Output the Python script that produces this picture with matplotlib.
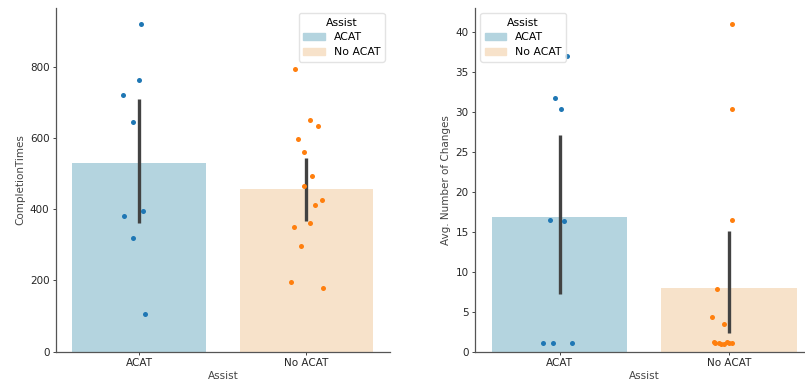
import matplotlib.pyplot as plt
from matplotlib.patches import Patch

categories = ["ACAT", "No ACAT"]

# completion times per participant
times_acat = [920, 763, 721, 646, 395, 380, 320, 105]
times_no_acat = [793, 650, 635, 596, 561, 493, 464, 425, 412, 362, 350, 298, 196, 180]
times_jitter_acat = [0.01, 0.0, -0.10, -0.04, 0.02, -0.094, -0.038, 0.032]
times_jitter_no_acat = [-0.07, 0.022, 0.072, -0.05, -0.012, 0.034, -0.016, 0.094,
                        0.052, 0.02, -0.074, -0.032, -0.09, 0.098]
times_ci_low = [362, 368]
times_ci_high = [710, 543]

# avg. number of changes per participant
changes_acat = [37.0, 31.7, 30.4, 16.5, 16.4, 1.1, 1.1, 1.05]
changes_no_acat = [41.0, 30.4, 16.5, 7.9, 4.3, 3.5, 1.2, 1.1, 1.05, 1.0, 1.15, 1.1, 1.05, 1.0]
changes_jitter_acat = [0.045, -0.03, 0.005, -0.06, 0.025, -0.1, -0.04, 0.07]
changes_jitter_no_acat = [0.015, 0.015, 0.015, -0.07, -0.1, -0.03, -0.09, -0.08,
                          -0.06, -0.03, -0.01, 0.0, 0.02, -0.05]
changes_ci_low = [7.2, 2.3]
changes_ci_high = [27.1, 15.1]

bar_colors = ["#b4d4df", "#f7e2ca"]
point_colors = ["#1f77b4", "#ff7f0e"]
text_color = "#262626"


def draw_panel(ax, groups, jitters, ci_low, ci_high, ylabel):
    means = [sum(g) / len(g) for g in groups]
    ax.bar(range(len(categories)), means, width=0.8, color=bar_colors, zorder=1)
    for i, (vals, jit) in enumerate(zip(groups, jitters)):
        ax.scatter([i + j for j in jit], vals, s=13, color=point_colors[i],
                   linewidth=0, zorder=3)
    ax.vlines(range(len(categories)), ci_low, ci_high, color="#424242",
              linewidth=2.4, zorder=2)
    ax.set_xlim(-0.5, 1.5)
    ax.set_ylim(bottom=0)
    ax.set_xticks(range(len(categories)))
    ax.set_xticklabels(categories)
    ax.set_xlabel("Assist", fontsize=7.5, color="#444444", labelpad=2)
    ax.set_ylabel(ylabel, fontsize=7.5, color="#444444", labelpad=3)
    ax.tick_params(labelsize=7.5, colors=text_color, length=2.5, width=0.6,
                   pad=2)
    for side in ("top", "right"):
        ax.spines[side].set_visible(False)
    for side in ("left", "bottom"):
        ax.spines[side].set_color("#555555")
        ax.spines[side].set_linewidth(0.9)


def add_legend(ax, loc):
    handles = [Patch(color=c, label=l) for c, l in zip(bar_colors, categories)]
    leg = ax.legend(handles=handles, title="Assist", loc=loc, fontsize=7.8,
                    title_fontsize=7.8, borderaxespad=0.5, handlelength=2.0,
                    labelspacing=0.45)
    leg.get_frame().set_edgecolor("#dddddd")


fig = plt.figure(figsize=(8.05, 3.87), dpi=100)
ax_left = fig.add_axes([0.0692, 0.0913, 0.4153, 0.8886])
ax_right = fig.add_axes([0.5901, 0.0913, 0.4206, 0.8886])

draw_panel(ax_left, [times_acat, times_no_acat],
           [times_jitter_acat, times_jitter_no_acat],
           times_ci_low, times_ci_high, "CompletionTimes")
ax_left.set_yticks([0, 200, 400, 600, 800])
add_legend(ax_left, "upper right")

draw_panel(ax_right, [changes_acat, changes_no_acat],
           [changes_jitter_acat, changes_jitter_no_acat],
           changes_ci_low, changes_ci_high, "Avg. Number of Changes")
ax_right.set_yticks(range(0, 45, 5))
add_legend(ax_right, "upper left")

fig.savefig("out.png", dpi=100)
